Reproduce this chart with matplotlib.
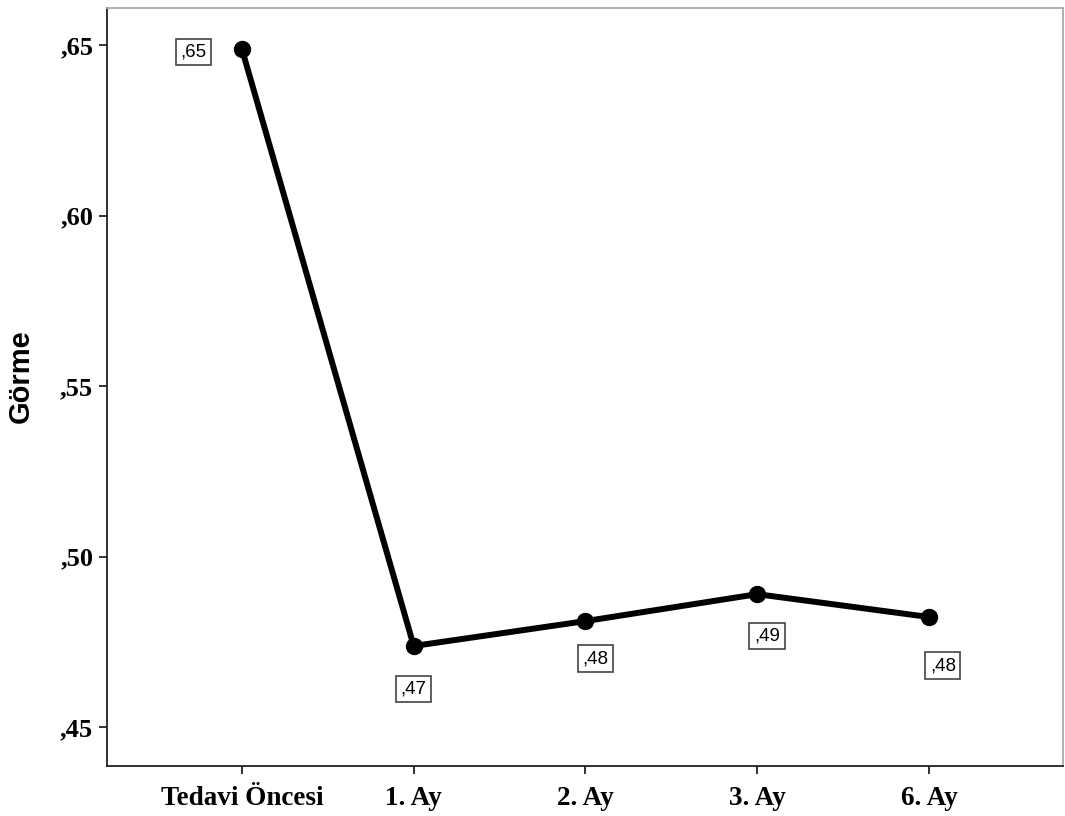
import matplotlib
matplotlib.use("Agg")
import matplotlib.pyplot as plt

categories = ["Tedavi Öncesi", "1. Ay", "2. Ay", "3. Ay", "6. Ay"]
values = [0.6488, 0.4738, 0.4811, 0.4890, 0.4823]
value_labels = [",65", ",47", ",48", ",49", ",48"]
y_ticks = [0.45, 0.50, 0.55, 0.60, 0.65]
y_tick_labels = [",45", ",50", ",55", ",60", ",65"]

# label offsets in points, relative to each point
label_offsets = [(-35, -2), (0, -31), (7, -27), (7, -30), (10, -35)]

fig = plt.figure(figsize=(10.65, 8.16), dpi=100)
ax = fig.add_axes([0.1005, 0.0613, 0.8975, 0.9287])

x = list(range(len(categories)))
ax.plot(x, values, color="black", linewidth=4.3, marker="o", markersize=11.5,
        solid_joinstyle="round", solid_capstyle="round")

for xi, yi, lab, off in zip(x, values, value_labels, label_offsets):
    ax.annotate(lab, (xi, yi), xytext=off, textcoords="offset points",
                ha="center", va="center", fontsize=13.5, family="Liberation Sans",
                bbox=dict(boxstyle="square,pad=0.25", fc="white", ec="#444444", lw=1.2))

ax.set_xlim(-0.786, 4.78)
ax.set_ylim(0.4386, 0.6609)
ax.set_xticks(x)
ax.set_xticklabels(categories, family="Liberation Serif", fontweight="bold", fontsize=19.5)
ax.set_yticks(y_ticks)
ax.set_yticklabels(y_tick_labels, family="Liberation Serif", fontweight="bold", fontsize=19)
ax.tick_params(axis="both", direction="out", length=6, width=1.3, color="#222222")
ax.tick_params(axis="x", pad=8.5)
ax.tick_params(axis="y", pad=4)

ax.set_ylabel("Görme", family="Liberation Sans", fontweight="bold", fontsize=21)
ax.yaxis.set_label_coords(-0.0753, 0.5145)

for side in ["left", "bottom"]:
    ax.spines[side].set_color("#222222")
    ax.spines[side].set_linewidth(1.3)
for side in ["top", "right"]:
    ax.spines[side].set_color("#aaaaaa")
    ax.spines[side].set_linewidth(1.3)

fig.savefig("out.png", dpi=100)
